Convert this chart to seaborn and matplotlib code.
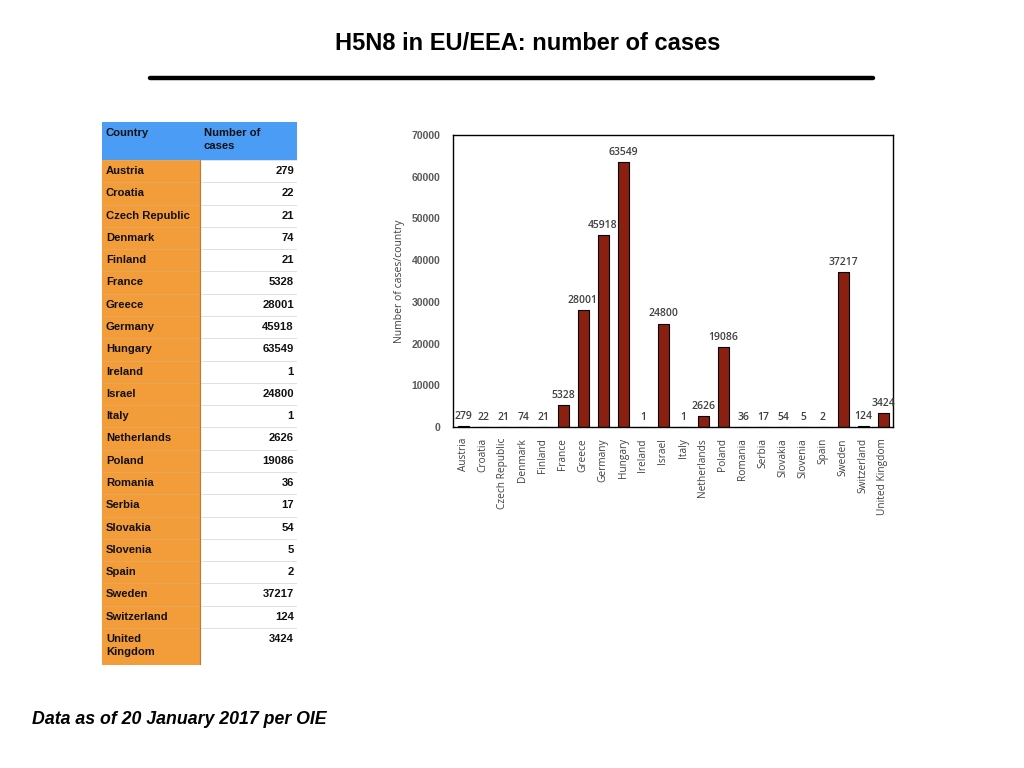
import matplotlib
matplotlib.use("Agg")
import matplotlib.pyplot as plt
import seaborn as sns
import pandas as pd
from matplotlib.patches import Rectangle

countries = ["Austria", "Croatia", "Czech Republic", "Denmark", "Finland", "France",
             "Greece", "Germany", "Hungary", "Ireland", "Israel", "Italy",
             "Netherlands", "Poland", "Romania", "Serbia", "Slovakia", "Slovenia",
             "Spain", "Sweden", "Switzerland", "United Kingdom"]
cases = [279, 22, 21, 74, 21, 5328, 28001, 45918, 63549, 1, 24800, 1,
         2626, 19086, 36, 17, 54, 5, 2, 37217, 124, 3424]
table_names = countries[:-1] + ["United\nKingdom"]
y_ticks = [0, 10000, 20000, 30000, 40000, 50000, 60000, 70000]

sns.set_theme(style="white")
plt.rcParams['font.family'] = ['Liberation Sans', 'DejaVu Sans']

fig = plt.figure(figsize=(10.24, 7.68), dpi=100)
W, H = 1024, 768

# Title and rule
fig.text(528 / W, 1 - 43 / H, "H5N8 in EU/EEA: number of cases", ha="center", va="center",
         fontsize=17, fontweight="bold", color="black")
fig.add_artist(plt.Line2D([150 / W, 873 / W], [1 - 78 / H, 1 - 78 / H], color="black", lw=3.2))

# Footer
fig.text(32 / W, 1 - 720 / H, "Data as of 20 January 2017 per OIE", ha="left", va="center",
         fontsize=12.8, fontweight="bold", fontstyle="italic", color="black")

# Table (axes in pixel coordinates)
tl, tr, tt, tb = 102, 297, 122, 665
axt = fig.add_axes([tl / W, 1 - tb / H, (tr - tl) / W, (tb - tt) / H])
axt.set_xlim(tl, tr)
axt.set_ylim(tb, tt)
axt.axis("off")
split = 200
blue = "#4A9CF5"
orange = "#F29C3A"
fs = 8.1
axt.add_patch(Rectangle((tl, tt), tr - tl, 38, facecolor=blue, edgecolor="none"))
axt.text(106, tt + 6, "Country", ha="left", va="top", fontsize=fs, fontweight="bold", color="#111111")
axt.text(204, tt + 6, "Number of\ncases", ha="left", va="top", fontsize=fs, fontweight="bold",
         color="#111111", linespacing=1.35)
row_h = (628 - 160) / 21
y = 160
for i, (name, val) in enumerate(zip(table_names, cases)):
    h = row_h if i < len(cases) - 1 else tb - 628
    axt.add_patch(Rectangle((tl, y), split - tl, h, facecolor=orange, edgecolor="none"))
    axt.add_patch(Rectangle((split, y), tr - split, h, facecolor="white", edgecolor="#DDDDDD", lw=0.6))
    axt.plot([tl, split], [y, y], color="#E8A860", lw=0.6)
    axt.text(106, y + 6, name, ha="left", va="top", fontsize=fs, fontweight="bold",
             color="#111111", linespacing=1.35)
    axt.text(294, y + 6, f"{val}", ha="right", va="top", fontsize=fs, fontweight="bold", color="#111111")
    y += h
axt.plot([split, split], [160, tb], color="#C07A30", lw=0.8)

# Bar chart
al, ar, at, ab = 453, 893, 135, 427
ax = fig.add_axes([al / W, 1 - ab / H, (ar - al) / W, (ab - at) / H])
df = pd.DataFrame({"country": countries, "cases": cases})
sns.barplot(data=df, x="country", y="cases", color="#8B1F10", edgecolor="black",
            linewidth=0.8, width=0.55, saturation=1, ax=ax)
ax.set_ylim(0, 70000)
ax.set_yticks(y_ticks)
ax.set_yticklabels([str(v) for v in y_ticks], fontsize=7.5, fontweight="bold", color="#595959",
                   family=["Liberation Sans"])
ax.set_xlim(-0.5, len(countries) - 0.5)
ax.tick_params(axis="both", length=0, pad=9)
ax.tick_params(axis="x", pad=8)
ax.set_xticks(range(len(countries)))
ax.set_xticklabels(countries, rotation=90, fontsize=7.3, color="#404040", family=["Open Sans"])
ax.set_xlabel("")
ax.set_ylabel("Number of cases/country", fontsize=7.5, color="#404040", family=["Open Sans"], labelpad=5)
for s in ax.spines.values():
    s.set_visible(True)
    s.set_color("black")
    s.set_linewidth(1.0)
ax.bar_label(ax.containers[0], labels=[str(v) for v in cases], padding=3, fontsize=7.5,
             color="#404040", family=["Open Sans"], fontweight="semibold")

fig.savefig("out.png", dpi=100)
